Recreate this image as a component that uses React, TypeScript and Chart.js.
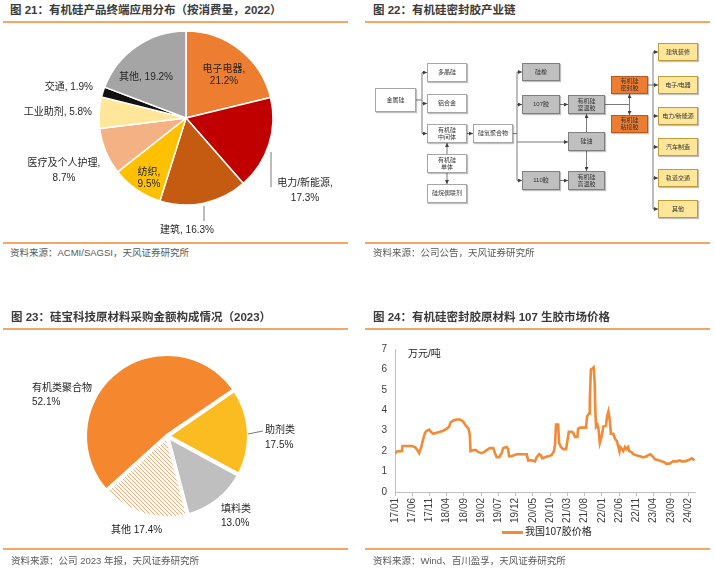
import React, { useEffect, useRef } from "react";
import { Chart, registerables } from "chart.js";
Chart.register(...registerables);

const FONT = '"Liberation Sans", "Noto Sans CJK SC", sans-serif';
const TXT = "#262626";

// ---------- Figure 21 data ----------
const usageCategories = ["电子电器", "电力/新能源", "建筑", "纺织", "医疗及个人护理", "工业助剂", "交通", "其他"];
const usageShares = [21.2, 17.3, 16.3, 9.5, 8.7, 5.8, 1.9, 19.2];
const usageColors = ["#ED7D31", "#C00000", "#C55A11", "#FFC000", "#F4B183", "#FFE699", "#111111", "#A5A5A5"];

// ---------- Figure 23 data ----------
const purchaseCategories = ["助剂类", "填料类", "其他", "有机类聚合物"];
const purchaseShares = [17.5, 13.0, 17.4, 52.1];

// ---------- Figure 24 data ----------
const xTickLabels = ["17/01", "17/06", "17/11", "18/04", "18/09", "19/02", "19/07", "19/12", "20/05", "20/10", "21/03", "21/08", "22/01", "22/06", "22/11", "23/04", "23/09", "24/02"];
const yTickValues = [0, 1, 2, 3, 4, 5, 6, 7];
// months since 2017/01
const priceMonth = [0, 0.5, 2.0, 2.2, 4.8, 5.8, 6.3, 7.0, 7.6, 8.2, 8.7, 9.2, 9.9, 10.4, 11.1, 12.1, 13.1, 14.0, 15.0, 15.7, 16.1, 16.9, 17.9, 18.8, 19.3, 19.8, 20.3, 20.8, 21.3, 21.7, 21.9, 22.7, 23.5, 24.2, 25.1, 25.8, 26.6, 27.5, 28.5, 29.0, 29.5, 30.2, 30.9, 31.4, 32.4, 32.8, 33.1, 33.8, 34.5, 35.3, 38.2, 38.6, 39.6, 40.6, 41.1, 41.8, 42.3, 42.7, 43.5, 44.4, 45.4, 46.1, 46.4, 46.7, 47.3, 47.6, 48.1, 48.8, 49.6, 50.0, 50.4, 51.2, 51.7, 52.2, 52.9, 53.1, 53.8, 55.4, 55.7, 56.3, 56.5, 56.8, 57.3, 57.6, 57.9, 58.1, 58.3, 58.7, 59.0, 59.4, 59.9, 60.4, 61.2, 61.5, 61.9, 62.3, 62.6, 63.3, 63.8, 64.3, 64.8, 65.1, 65.3, 65.8, 66.2, 66.7, 67.1, 67.6, 67.9, 68.6, 69.1, 70.0, 71.0, 72.0, 73.0, 73.4, 74.1, 74.7, 75.4, 76.4, 77.3, 78.2, 78.7, 79.7, 80.2, 80.7, 81.7, 82.6, 83.1, 84.0, 85.0, 85.5, 86.0, 86.5, 86.8];
const priceValue = [1.88, 1.98, 2.0, 2.25, 2.25, 2.2, 2.1, 1.9, 2.2, 2.6, 2.9, 3.0, 3.05, 2.95, 2.85, 2.9, 2.95, 3.0, 3.1, 3.2, 3.4, 3.5, 3.55, 3.55, 3.5, 3.45, 3.3, 3.2, 3.1, 2.8, 2.0, 2.05, 2.05, 1.95, 1.9, 1.95, 2.05, 2.15, 2.15, 1.9, 1.7, 1.7, 1.9, 2.15, 2.2, 2.1, 1.75, 1.75, 1.8, 1.85, 1.85, 1.55, 1.55, 1.5, 1.7, 1.85, 1.8, 1.65, 1.7, 1.75, 1.8, 2.0, 2.3, 3.3, 3.3, 2.4, 2.2, 2.1, 2.1, 2.5, 2.95, 2.95, 2.9, 2.7, 2.7, 3.1, 3.15, 3.15, 3.7, 3.85, 4.5, 6.0, 6.05, 6.1, 5.4, 4.0, 3.2, 3.3, 3.1, 2.4, 2.7, 3.2, 3.25, 3.7, 3.95, 3.5, 2.85, 2.85, 2.6, 2.5, 2.2, 2.0, 2.2, 2.1, 2.0, 2.2, 2.1, 2.2, 2.0, 1.95, 1.85, 1.8, 1.75, 1.7, 1.75, 1.8, 1.85, 1.75, 1.6, 1.55, 1.5, 1.45, 1.38, 1.4, 1.45, 1.5, 1.5, 1.55, 1.5, 1.5, 1.55, 1.6, 1.65, 1.6, 1.55];
const priceSeriesName = "我国107胶价格";

// ---------- label styling ----------
type LabelStyle = { split: boolean; dx: number; dy: number; align: CanvasTextAlign; lh?: number };
const usageLabelStyle: LabelStyle[] = [
  { split: true, dx: 38, dy: -49, align: "center", lh: 12 },
  { split: true, dx: 119, dy: 65, align: "center", lh: 15 },
  { split: false, dx: 1, dy: 112, align: "center" },
  { split: true, dx: -37, dy: 54, align: "center", lh: 12 },
  { split: true, dx: -122, dy: 45, align: "center", lh: 15 },
  { split: false, dx: -94, dy: -6, align: "right" },
  { split: false, dx: -93, dy: -31, align: "right" },
  { split: false, dx: -40, dy: -41, align: "center" },
];
const usageLeaders = [[85, 34, 85, 69], [18, 88, 18, 103]];
const purchaseLabelStyle: LabelStyle[] = [
  { split: true, dx: 98, dy: -6, align: "left", lh: 15 },
  { split: true, dx: 54, dy: 73, align: "left", lh: 14 },
  { split: false, dx: -56, dy: 94, align: "left" },
  { split: true, dx: -135, dy: -48, align: "left", lh: 14 },
];
const purchaseLeaders = [[81, -2, 96, -5]];

function pieLabelPlugin(lines: string[][], styles: LabelStyle[], leaders: number[][]) {
  return {
    id: "pieLabels",
    afterDraw(chart: any) {
      const a = chart.getDatasetMeta(0).data[0];
      const cx = a.x, cy = a.y;
      const ctx = chart.ctx as CanvasRenderingContext2D;
      ctx.save();
      ctx.strokeStyle = "#595959";
      ctx.lineWidth = 0.8;
      leaders.forEach(([x1, y1, x2, y2]) => {
        ctx.beginPath();
        ctx.moveTo(cx + x1, cy + y1);
        ctx.lineTo(cx + x2, cy + y2);
        ctx.stroke();
      });
      ctx.font = `10px ${FONT}`;
      ctx.fillStyle = TXT;
      ctx.textBaseline = "middle";
      styles.forEach((s, i) => {
        ctx.textAlign = s.align;
        lines[i].forEach((t, j) => ctx.fillText(t, cx + s.dx, cy + s.dy + j * (s.lh ?? 13)));
      });
      ctx.restore();
    },
  };
}

function makeHatch() {
  const c = document.createElement("canvas");
  c.width = 4; c.height = 4;
  const g = c.getContext("2d")!;
  g.fillStyle = "#ffffff";
  g.fillRect(0, 0, 4, 4);
  g.strokeStyle = "#F2A979";
  g.lineWidth = 1;
  g.beginPath();
  g.moveTo(0, 0); g.lineTo(4, 4);
  g.moveTo(-1, 3); g.lineTo(1, 5);
  g.moveTo(3, -1); g.lineTo(5, 1);
  g.stroke();
  return g.createPattern(c, "repeat");
}

function ChartBox({ left, top, width, height, make }: { left: number; top: number; width: number; height: number; make: () => any }) {
  const ref = useRef<HTMLCanvasElement>(null);
  useEffect(() => {
    const ch = new Chart(ref.current!, make());
    return () => ch.destroy();
  }, []);
  return <canvas ref={ref} width={width} height={height} style={{ position: "absolute", left, top, width, height }} />;
}

function usageConfig() {
  const lines = usageCategories.map((c, i) =>
    usageLabelStyle[i].split ? [`${c},`, `${usageShares[i].toFixed(1)}%`] : [`${c}, ${usageShares[i].toFixed(1)}%`]
  );
  return {
    type: "pie",
    data: {
      labels: usageCategories,
      datasets: [{ data: usageShares, backgroundColor: usageColors, borderColor: "#ffffff", borderWidth: 1.5 }],
    },
    options: {
      animation: false,
      responsive: false,
      events: [],
      layout: { padding: { left: 98.25, right: 86.25, top: 4.25, bottom: 34.25 } },
      plugins: { legend: { display: false }, tooltip: { enabled: false } },
    },
    plugins: [pieLabelPlugin(lines, usageLabelStyle, usageLeaders)],
  };
}

function purchaseConfig() {
  const lines = purchaseCategories.map((c, i) =>
    purchaseLabelStyle[i].split ? [c, `${purchaseShares[i].toFixed(1)}%`] : [`${c} ${purchaseShares[i].toFixed(1)}%`]
  );
  const hatch = makeHatch();
  return {
    type: "pie",
    data: {
      labels: purchaseCategories,
      datasets: [{
        data: purchaseShares,
        backgroundColor: ["#FBBC22", "#BFBFBF", hatch, "#F5882E"],
        borderColor: "#ffffff",
        borderWidth: 4,
      }],
    },
    options: {
      animation: false,
      responsive: false,
      events: [],
      rotation: 55.5,
      layout: { padding: { left: 83, right: 109, top: 20, bottom: 27 } },
      plugins: { legend: { display: false }, tooltip: { enabled: false } },
    },
    plugins: [pieLabelPlugin(lines, purchaseLabelStyle, purchaseLeaders)],
  };
}

const unitPlugin = {
  id: "unit",
  afterDraw(chart: any) {
    const ctx = chart.ctx as CanvasRenderingContext2D;
    ctx.save();
    ctx.font = `10px ${FONT}`;
    ctx.fillStyle = TXT;
    ctx.textAlign = "left";
    ctx.textBaseline = "middle";
    ctx.fillText("万元/吨", chart.chartArea.left + 13, chart.chartArea.top + 5);
    ctx.restore();
  },
};

function priceConfig() {
  const tickFont = { size: 10, family: FONT };
  return {
    type: "line",
    data: {
      datasets: [{
        label: priceSeriesName,
        data: priceMonth.map((m, i) => ({ x: m, y: priceValue[i] })),
        borderColor: "#F28A36",
        backgroundColor: "#F28A36",
        borderWidth: 2.6,
        pointRadius: 0,
        tension: 0,
        fill: false,
      }],
    },
    options: {
      animation: false,
      responsive: false,
      events: [],
      layout: { padding: { left: 0, right: 20, top: 13, bottom: 0 } },
      plugins: { legend: { display: false }, tooltip: { enabled: false } },
      scales: {
        x: {
          type: "linear",
          min: 0,
          max: 87,
          afterBuildTicks: (s: any) => { s.ticks = xTickLabels.map((_, i) => ({ value: i * 5 })); },
          afterFit: (s: any) => { s.height = 43; },
          ticks: {
            autoSkip: false, maxRotation: 90, minRotation: 90, padding: 2,
            font: tickFont, color: "#404040",
            callback: (_v: any, i: number) => xTickLabels[i],
          },
          grid: { display: true, drawOnChartArea: false, drawTicks: true, tickLength: 4, color: "#BFBFBF" },
          border: { display: true, color: "#BFBFBF" },
        },
        y: {
          min: 0,
          max: 7,
          afterBuildTicks: (s: any) => { s.ticks = yTickValues.map((v) => ({ value: v })); },
          afterFit: (s: any) => { s.width = 35; },
          ticks: { padding: 8, font: tickFont, color: "#404040" },
          grid: { display: false, drawTicks: false },
          border: { display: true, color: "#BFBFBF" },
        },
      },
    },
    plugins: [unitPlugin],
  };
}

// ---------- Flowchart (figure 22) ----------
type Box = { x: number; y: number; w: number; h: number; t: string; k: "w" | "g" | "o" | "y" };
const flowBoxes: Box[] = [
  { x: 375, y: 88, w: 41, h: 24, t: "金属硅", k: "w" },
  { x: 427, y: 63, w: 40, h: 19, t: "多晶硅", k: "w" },
  { x: 427, y: 94, w: 40, h: 19, t: "铝合金", k: "w" },
  { x: 427, y: 124, w: 40, h: 19, t: "有机硅\n中间体", k: "w" },
  { x: 427, y: 154, w: 40, h: 19, t: "有机硅\n单体", k: "w" },
  { x: 427, y: 184, w: 40, h: 19, t: "硅烷偶联剂", k: "w" },
  { x: 473, y: 124, w: 40, h: 19, t: "硅氧聚合物", k: "w" },
  { x: 522, y: 63, w: 38, h: 18, t: "硅橡", k: "g" },
  { x: 522, y: 95, w: 38, h: 19, t: "107胶", k: "g" },
  { x: 522, y: 171, w: 38, h: 19, t: "110胶", k: "g" },
  { x: 568, y: 95, w: 37, h: 19, t: "有机硅\n室温胶", k: "g" },
  { x: 568, y: 132, w: 37, h: 19, t: "硅油", k: "g" },
  { x: 568, y: 171, w: 37, h: 19, t: "有机硅\n高温胶", k: "g" },
  { x: 611, y: 76, w: 37, h: 18, t: "有机硅\n密封胶", k: "o" },
  { x: 611, y: 115, w: 37, h: 18, t: "有机硅\n粘接胶", k: "o" },
  { x: 658, y: 43, w: 40, h: 18, t: "建筑装修", k: "y" },
  { x: 658, y: 76, w: 40, h: 18, t: "电子/电器", k: "y" },
  { x: 658, y: 107, w: 40, h: 18, t: "电力/新能源", k: "y" },
  { x: 658, y: 138, w: 40, h: 18, t: "汽车制造", k: "y" },
  { x: 658, y: 169, w: 40, h: 18, t: "轨道交通", k: "y" },
  { x: 658, y: 200, w: 40, h: 18, t: "其他", k: "y" },
];
const flowLines: [number, number, number, number, boolean][] = [
  [416, 100, 422, 100, false],
  [422, 72.5, 422, 133.5, false],
  [422, 72.5, 427, 72.5, true],
  [422, 103.5, 427, 103.5, true],
  [422, 133.5, 427, 133.5, true],
  [447, 154, 447, 143, true],
  [447, 173, 447, 184, true],
  [467, 133.5, 473, 133.5, true],
  [513, 133.5, 517, 133.5, false],
  [517, 72, 517, 180.5, false],
  [517, 72, 522, 72, true],
  [517, 104.5, 522, 104.5, true],
  [517, 180.5, 522, 180.5, true],
  [517, 142, 568, 142, true],
  [560, 104.5, 568, 104.5, true],
  [560, 180.5, 568, 180.5, true],
  [586.5, 132, 586.5, 114, true],
  [586.5, 151, 586.5, 171, true],
  [605, 104.5, 629.5, 104.5, false],
  [629.5, 104.5, 629.5, 94, true],
  [629.5, 104.5, 629.5, 115, true],
  [648, 85, 653, 85, false],
  [653, 52, 653, 209, false],
  [653, 52, 658, 52, true],
  [653, 85, 658, 85, true],
  [653, 116, 658, 116, true],
  [653, 147, 658, 147, true],
  [653, 178, 658, 178, true],
  [653, 209, 658, 209, true],
];
const boxStyle: Record<string, { bg: string; bd: string }> = {
  w: { bg: "#ffffff", bd: "#A6A6A6" },
  g: { bg: "#BFBFBF", bd: "#7F7F7F" },
  o: { bg: "#ED7D31", bd: "#B85A1C" },
  y: { bg: "#FFE699", bd: "#BF9B3A" },
};

function Flow() {
  return (
    <>
      <svg width={715} height={580} style={{ position: "absolute", left: 0, top: 0 }}>
        <defs>
          <marker id="ah" markerWidth="4" markerHeight="4" refX="4" refY="2" orient="auto" markerUnits="userSpaceOnUse">
            <path d="M0,0 L4,2 L0,4 z" fill="#404040" />
          </marker>
        </defs>
        {flowLines.map(([x1, y1, x2, y2, a], i) => (
          <line key={i} x1={x1} y1={y1} x2={x2} y2={y2} stroke="#595959" strokeWidth={0.8} markerEnd={a ? "url(#ah)" : undefined} />
        ))}
      </svg>
      {flowBoxes.map((b, i) => (
        <div key={i} style={{
          position: "absolute", left: b.x, top: b.y, width: b.w, height: b.h, boxSizing: "border-box",
          background: boxStyle[b.k].bg, border: `1px solid ${boxStyle[b.k].bd}`,
          boxShadow: "1px 1px 1px rgba(0,0,0,0.25)",
          display: "flex", alignItems: "center", justifyContent: "center", textAlign: "center",
          fontSize: 6, lineHeight: "7px", color: "#333", whiteSpace: "pre",
        }}>{b.t}</div>
      ))}
    </>
  );
}

function Title({ x, y, text }: { x: number; y: number; text: string }) {
  return <div style={{ position: "absolute", left: x, top: y - 8, height: 16, lineHeight: "16px", fontSize: 11.5, fontWeight: "bold", color: "#3A3A3A", whiteSpace: "nowrap" }}>{text}</div>;
}
function Source({ x, y, text }: { x: number; y: number; text: string }) {
  return <div style={{ position: "absolute", left: x, top: y - 7, height: 14, lineHeight: "14px", fontSize: 9.5, color: "#595959", whiteSpace: "nowrap" }}>{text}</div>;
}
function HLine({ x1, x2, y }: { x1: number; x2: number; y: number }) {
  return <div style={{ position: "absolute", left: x1, top: y - 1, width: x2 - x1, height: 1.5, background: "#F5A664" }} />;
}

export default function App() {
  return (
    <div style={{ position: "absolute", left: 0, top: 0, width: 715, height: 580, background: "#fff", overflow: "hidden", fontFamily: FONT }}>
      <Title x={10} y={10} text="图 21：有机硅产品终端应用分布（按消费量，2022）" />
      <HLine x1={3} x2={348} y={22} />
      <ChartBox left={0} top={26} width={360} height={214} make={usageConfig} />
      <HLine x1={3} x2={348} y={243} />
      <Source x={10} y={253} text="资料来源：ACMI/SAGSI，天风证券研究所" />

      <Title x={373} y={10} text="图 22：有机硅密封胶产业链" />
      <HLine x1={365} x2={710} y={22} />
      <Flow />
      <HLine x1={365} x2={710} y={243} />
      <Source x={373} y={253} text="资料来源：公司公告，天风证券研究所" />

      <Title x={11} y={317} text="图 23：硅宝科技原材料采购金额构成情况（2023）" />
      <HLine x1={3} x2={348} y={329} />
      <ChartBox left={0} top={332} width={360} height={215} make={purchaseConfig} />
      <HLine x1={3} x2={348} y={549} />
      <Source x={11} y={561} text="资料来源：公司 2023 年报，天风证券研究所" />

      <Title x={373} y={317} text="图 24：有机硅密封胶原材料 107 生胶市场价格" />
      <HLine x1={365} x2={710} y={329} />
      <ChartBox left={360} top={335} width={355} height={200} make={priceConfig} />
      <div style={{ position: "absolute", left: 502, top: 531, width: 21, height: 3, background: "#F28A36" }} />
      <div style={{ position: "absolute", left: 525, top: 525, height: 14, lineHeight: "14px", fontSize: 10, color: TXT, whiteSpace: "nowrap" }}>{priceSeriesName}</div>
      <HLine x1={365} x2={710} y={549} />
      <Source x={373} y={561} text="资料来源：Wind、百川盈孚，天风证券研究所" />
    </div>
  );
}
